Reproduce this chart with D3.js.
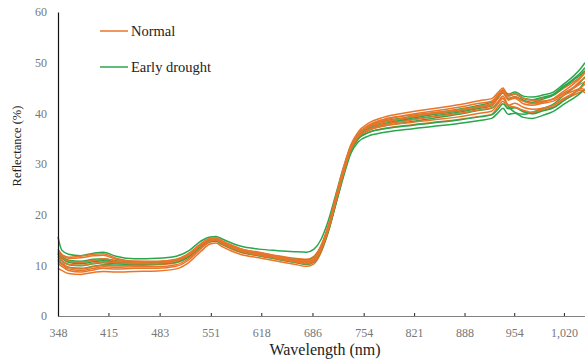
<!DOCTYPE html>
<html>
<head>
<meta charset="utf-8">
<script src="https://d3js.org/d3.v7.min.js"></script>
<style>
  body {
    margin: 0;
    background: white;
  }
  svg {
    display: block;
  }
  svg text {
    font-family: 'Liberation Serif', 'DejaVu Serif', serif;
  }
</style>
</head>
<body>
<div id="holder"></div>
<script>
  // Wavelength samples (nm)
  const wavelengths = [348, 353, 362, 378, 395, 408, 425, 450, 480, 505, 522, 538, 550, 558, 566, 590, 615, 640, 662, 678, 688, 697, 707, 717, 727, 737, 747, 760, 780, 810, 845, 880, 908, 924, 933, 939, 946, 955, 966, 978, 992, 1006, 1020, 1033, 1042, 1048];

  // Normal plants - reflectance (%)
  const normal = [
    [13.2, 12.2, 11.6, 11.8, 12.2, 12.3, 11.4, 10.8, 10.8, 11.2, 12.4, 14.3, 15.3, 15.4, 14.8, 13.3, 12.6, 11.9, 11.4, 11.2, 11.8, 13.8, 17.8, 23.2, 28.6, 33.2, 35.8, 37.4, 38.6, 39.6, 40.4, 41.2, 42.0, 42.4, 43.8, 44.6, 43.6, 43.8, 42.9, 42.6, 43.0, 43.6, 45.0, 46.2, 47.2, 48.2],
    [9.4, 9.0, 8.4, 8.2, 8.6, 8.8, 8.7, 8.8, 8.9, 9.3, 10.6, 12.8, 14.2, 14.4, 13.7, 12.2, 11.5, 10.8, 10.2, 9.8, 10.3, 12.4, 16.6, 22.2, 27.8, 32.6, 35.0, 36.2, 37.0, 37.6, 38.2, 38.8, 39.4, 39.8, 41.4, 42.4, 41.0, 41.2, 40.4, 40.0, 40.6, 41.2, 42.6, 43.6, 44.2, 44.6],
    [10.4, 9.8, 9.0, 8.7, 9.1, 9.4, 9.3, 9.4, 9.4, 9.8, 11.1, 13.3, 14.6, 14.8, 14.1, 12.6, 11.9, 11.2, 10.6, 10.2, 10.7, 12.8, 17.0, 22.6, 28.2, 33.0, 35.6, 37.1, 38.2, 39.0, 39.8, 40.5, 41.2, 41.6, 43.4, 44.4, 43.0, 43.3, 42.4, 42.0, 42.4, 42.8, 44.0, 45.2, 46.4, 47.0],
    [11.2, 10.5, 9.6, 9.3, 9.7, 10.0, 9.9, 10.0, 10.1, 10.5, 11.7, 13.8, 15.0, 15.2, 14.5, 13.0, 12.3, 11.6, 11.0, 10.6, 11.1, 13.2, 17.3, 22.9, 28.4, 33.1, 35.4, 36.6, 37.5, 38.1, 38.7, 39.3, 40.0, 40.4, 42.0, 43.0, 41.6, 42.0, 41.2, 40.8, 41.0, 41.6, 42.8, 44.0, 45.0, 45.8],
    [12.4, 11.6, 10.8, 10.6, 11.0, 11.3, 10.8, 10.6, 10.7, 11.0, 12.2, 14.1, 15.2, 15.3, 14.7, 13.2, 12.5, 11.8, 11.2, 10.9, 11.5, 13.6, 17.8, 23.6, 29.2, 33.8, 36.4, 38.0, 39.2, 40.1, 40.9, 41.7, 42.5, 42.9, 44.2, 45.0, 43.4, 43.8, 43.0, 42.6, 42.4, 42.8, 44.0, 45.0, 45.8, 46.2],
    [11.8, 11.0, 10.2, 10.0, 10.4, 10.7, 10.5, 10.3, 10.4, 10.8, 12.0, 14.0, 15.1, 15.2, 14.6, 13.0, 12.2, 11.5, 10.9, 10.5, 11.0, 13.0, 17.2, 22.8, 28.4, 33.2, 35.8, 37.3, 38.3, 39.1, 39.9, 40.6, 41.4, 41.9, 43.6, 44.4, 42.6, 43.0, 41.9, 41.6, 42.0, 42.4, 43.6, 44.4, 44.9, 44.6],
    [12.9, 12.0, 11.4, 11.5, 11.9, 12.0, 11.2, 10.8, 10.7, 11.1, 12.3, 14.2, 15.3, 15.4, 14.8, 13.3, 12.4, 11.7, 11.0, 10.7, 11.2, 13.3, 17.5, 23.0, 28.6, 33.4, 36.0, 37.6, 38.8, 39.5, 40.1, 40.7, 41.3, 41.7, 43.0, 44.2, 42.8, 43.2, 42.4, 41.9, 42.2, 42.9, 44.4, 45.8, 47.0, 48.0],
    [10.8, 10.2, 9.3, 9.0, 9.4, 9.7, 9.6, 9.7, 9.7, 10.1, 11.4, 13.5, 14.8, 15.0, 14.3, 12.8, 12.0, 11.3, 10.7, 10.3, 10.8, 12.9, 17.0, 22.5, 28.0, 32.8, 35.4, 36.8, 37.8, 38.5, 39.3, 40.0, 40.7, 41.1, 42.4, 43.4, 41.6, 41.2, 40.6, 40.2, 40.8, 41.6, 43.0, 44.0, 44.6, 44.0]
  ];

  // Early drought plants - reflectance (%)
  const drought = [
    [15.6, 13.0, 12.2, 11.9, 12.4, 12.6, 11.8, 11.3, 11.4, 11.8, 12.9, 14.8, 15.6, 15.7, 15.2, 13.8, 13.2, 12.9, 12.7, 12.6, 13.2, 15.0, 18.8, 24.0, 29.2, 33.6, 36.0, 37.4, 38.4, 39.2, 40.0, 40.8, 41.6, 42.2, 43.6, 44.6, 43.8, 44.2, 43.4, 43.2, 43.6, 44.2, 45.8, 47.4, 48.8, 50.0],
    [12.2, 11.4, 10.7, 10.6, 11.0, 11.1, 10.8, 10.6, 10.6, 10.9, 12.0, 14.0, 15.0, 15.1, 14.5, 13.0, 12.3, 11.7, 11.2, 11.0, 11.6, 13.5, 17.4, 22.8, 28.2, 32.8, 35.4, 36.8, 37.8, 38.6, 39.4, 40.2, 41.0, 41.5, 43.2, 44.2, 43.4, 43.8, 43.0, 42.7, 43.2, 43.8, 45.4, 46.8, 48.0, 49.0],
    [11.0, 10.4, 9.6, 9.4, 9.8, 10.1, 10.3, 10.4, 10.4, 10.7, 11.8, 13.8, 14.9, 15.0, 14.4, 12.9, 12.1, 11.4, 10.8, 10.4, 10.9, 12.9, 16.9, 22.3, 27.8, 32.6, 35.2, 36.6, 37.5, 38.2, 39.0, 39.8, 40.6, 41.0, 42.2, 43.0, 41.4, 40.2, 39.8, 40.2, 41.0, 41.8, 43.6, 45.0, 46.2, 47.2],
    [12.6, 11.8, 11.0, 10.8, 11.2, 11.3, 10.9, 10.6, 10.6, 10.9, 12.0, 13.9, 14.9, 15.0, 14.4, 12.9, 12.1, 11.4, 10.8, 10.5, 11.0, 13.0, 17.0, 22.4, 27.9, 32.6, 35.0, 36.2, 36.9, 37.5, 38.1, 38.7, 39.3, 39.7, 40.9, 41.9, 40.9, 41.1, 40.3, 39.9, 40.5, 41.1, 42.5, 43.9, 45.1, 46.3],
    [12.3, 11.5, 10.6, 10.3, 10.7, 10.9, 10.6, 10.4, 10.5, 10.8, 11.9, 13.9, 15.0, 15.1, 14.4, 12.9, 12.2, 11.5, 10.9, 10.6, 11.1, 13.1, 17.1, 22.6, 28.1, 32.9, 35.5, 36.9, 37.9, 38.8, 39.7, 40.5, 41.3, 41.8, 43.2, 44.0, 42.8, 43.2, 42.6, 42.2, 42.8, 43.6, 45.2, 46.6, 47.6, 48.4],
    [11.6, 10.9, 10.1, 9.9, 10.3, 10.5, 10.3, 10.2, 10.3, 10.6, 11.7, 13.7, 14.7, 14.8, 14.2, 12.7, 11.9, 11.2, 10.6, 10.2, 10.7, 12.7, 16.6, 22.0, 27.4, 32.1, 34.4, 35.5, 36.2, 36.8, 37.4, 38.0, 38.6, 39.0, 40.2, 41.0, 39.8, 40.0, 39.2, 39.0, 39.6, 40.4, 41.8, 43.0, 44.0, 44.8]
  ];

  const xTicks = [348, 415, 483, 551, 618, 686, 754, 821, 888, 954, 1020];
  const yTicks = [0, 10, 20, 30, 40, 50, 60];

  const seriesNames = ['Normal', 'Early drought'];
  const seriesColors = ['#e8752a', '#2aa64c'];

  const w = 585;
  const h = 360;
  const margin = { left: 58, right: 0, top: 12, bottom: 44 };
  const serif = "'Liberation Serif', 'DejaVu Serif', serif";

  const xScale = d3
    .scaleLinear()
    .domain([348, 1048])
    .range([margin.left, w - margin.right]);

  const yScale = d3
    .scaleLinear()
    .domain([0, 60])
    .range([h - margin.bottom, margin.top]);

  const svg = d3
    .select('#holder')
    .append('svg')
    .attr('width', w)
    .attr('height', h);

  const line = d3
    .line()
    .x((d, i) => xScale(wavelengths[i]))
    .y((d) => yScale(d))
    .curve(d3.curveMonotoneX);

  // Lines: interleave the two groups so neither hides the other
  const curves = [];
  const n = Math.max(normal.length, drought.length);
  for (let i = 0; i < n; i++) {
    if (drought[i]) curves.push({ values: drought[i], color: seriesColors[1] });
    if (normal[i]) curves.push({ values: normal[i], color: seriesColors[0] });
  }

  svg
    .append('g')
    .selectAll('path')
    .data(curves)
    .enter()
    .append('path')
    .attr('d', (d) => line(d.values))
    .attr('fill', 'none')
    .attr('stroke', (d) => d.color)
    .attr('stroke-width', 1.5)
    .attr('stroke-linejoin', 'round');

  // Axes
  const xAxis = d3
    .axisBottom(xScale)
    .tickValues(xTicks)
    .tickSize(0)
    .tickPadding(12)
    .tickFormat(d3.format(',d'));
  const gx = svg
    .append('g')
    .attr('transform', 'translate(0,' + (h - margin.bottom) + ')')
    .call(xAxis)
    .attr('font-family', serif)
    .attr('font-size', 12);
  gx.select('.domain').attr('stroke', '#808080').attr('stroke-width', 1.2);
  gx.selectAll('.tick')
    .filter((d) => d !== 348)
    .append('line')
    .attr('y1', 0)
    .attr('y2', -3)
    .attr('stroke', '#222');
  gx.selectAll('.tick text').attr('fill', '#777');

  const yAxis = d3.axisLeft(yScale).tickValues(yTicks).tickSize(0).tickPadding(11);
  const gy = svg
    .append('g')
    .attr('transform', 'translate(' + margin.left + ',0)')
    .call(yAxis)
    .attr('font-family', serif)
    .attr('font-size', 12);
  gy.select('.domain').attr('stroke', '#111').attr('stroke-width', 1.2);
  gy.selectAll('.tick text').attr('fill', '#777');

  // Axis titles
  svg
    .append('text')
    .attr('x', 325)
    .attr('y', 355)
    .attr('text-anchor', 'middle')
    .attr('font-family', serif)
    .attr('font-size', 16)
    .attr('fill', '#222')
    .text('Wavelength (nm)');

  svg
    .append('text')
    .attr('transform', 'translate(21,146) rotate(-90)')
    .attr('text-anchor', 'middle')
    .attr('font-family', serif)
    .attr('font-size', 12.5)
    .attr('fill', '#222')
    .text('Reflectance (%)');

  // Legend
  const legend = svg
    .append('g')
    .selectAll('g')
    .data(seriesNames)
    .enter()
    .append('g')
    .attr('transform', (d, i) => 'translate(100,' + (31 + i * 36) + ')');
  legend
    .append('line')
    .attr('x1', 0)
    .attr('x2', 28)
    .attr('stroke', (d, i) => seriesColors[i])
    .attr('stroke-width', 1.5);
  legend
    .append('text')
    .attr('x', 31)
    .attr('y', 4.5)
    .attr('font-family', serif)
    .attr('font-size', 14.5)
    .attr('fill', '#222')
    .text((d) => d);
</script>
</body>
</html>
